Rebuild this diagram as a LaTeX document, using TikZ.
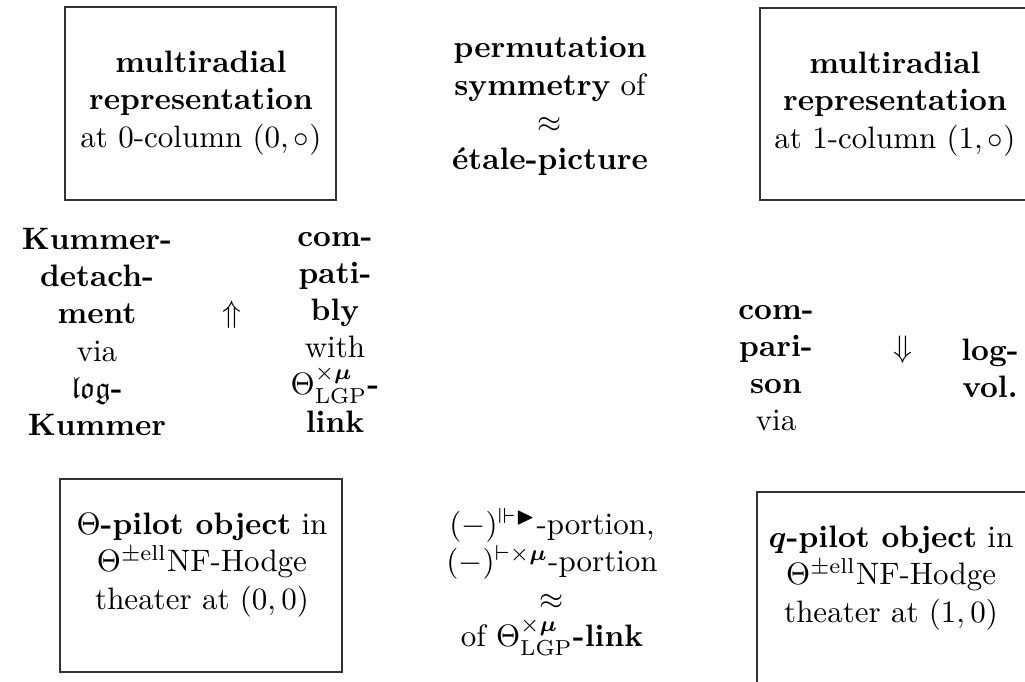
\documentclass[tikz,border=0pt]{standalone}
\usepackage{amssymb}
\usepackage{amsmath}
\usepackage{tikz}
\usetikzlibrary{positioning}

\tikzset{
    frameline/.style={draw=black!80, line width=0.45pt},
    blocktext/.style={align=center, inner sep=0pt}
}

\begin{document}
\begin{tikzpicture}[x=0.3226pt, y=-0.3226pt]
    \useasboundingbox (0,0) rectangle (1025,682);
    \clip (0,0) rectangle (1025,682);
    % upper boxes
    \begin{scope}[shift={(65, 7)}]
        \draw[frameline] (0, 0) -- (271, 0) -- (271, 193) -- (0, 193) -- cycle;
        \node[blocktext] (multizero) at (136, 96) {\textbf{multiradial}\\\textbf{representation}\\at 0-column $(0,\circ)$};
    \end{scope}
    \begin{scope}[shift={(760, 8)}]
        \draw[frameline] (0, 0) -- (271, 0) -- (271, 192) -- (0, 192) -- cycle;
        \node[blocktext] (multione) at (135, 96) {\textbf{multiradial}\\\textbf{representation}\\at 1-column $(1,\circ)$};
    \end{scope}
    % lower boxes
    \begin{scope}[shift={(60, 479)}]
        \draw[frameline] (0, 0) -- (282, 0) -- (282, 193) -- (0, 193) -- cycle;
        \node[blocktext] (thetapilot) at (142, 86) {$\Theta$\textbf{-pilot object} in\\$\Theta^{\pm\mathrm{ell}}$NF-Hodge\\theater at $(0,0)$};
    \end{scope}
    \begin{scope}[shift={(757, 492)}]
        \draw[frameline] (0, 0) -- (282, 0) -- (282, 193) -- (0, 193) -- cycle;
        \node[blocktext] (qpilot) at (134, 86) {$\boldsymbol{q}$\textbf{-pilot object} in\\$\Theta^{\pm\mathrm{ell}}$NF-Hodge\\theater at $(1,0)$};
    \end{scope}
    % middle column
    \node[blocktext] (symmetry) at (550, 106) {\textbf{permutation}\\\textbf{symmetry} of\\$\approx$\\\textbf{\'etale-picture}};
    \node[blocktext] (portion) at (552, 582) {$(-)^{\Vdash\blacktriangleright}$-portion,\\$(-)^{\vdash\times\boldsymbol{\mu}}$-portion\\$\approx$\\of $\Theta^{\times\boldsymbol{\mu}}_{\mathrm{LGP}}$\textbf{-link}};
    % left side
    \node[blocktext] (detach) at (97, 332) {\textbf{Kummer-}\\\textbf{detach-}\\\textbf{ment}\\via\\$\mathfrak{log}$\textbf{-}\\\textbf{Kummer}};
    \node[blocktext] (uparrow) at (232, 315) {$\Uparrow$};
    \node[blocktext] (compat) at (335, 332) {\textbf{com-}\\\textbf{pati-}\\\textbf{bly}\\with\\$\Theta^{\times\boldsymbol{\mu}}_{\mathrm{LGP}}$\textbf{-}\\\textbf{link}};
    % right side
    \node[blocktext] (compare) at (776, 368) {\textbf{com-}\\\textbf{pari-}\\\textbf{son}\\via};
    \node[blocktext] (downarrow) at (903, 350) {$\Downarrow$};
    \node[blocktext] (logvol) at (990, 368) {\textbf{log-}\\\textbf{vol.}};
\end{tikzpicture}
\end{document}
